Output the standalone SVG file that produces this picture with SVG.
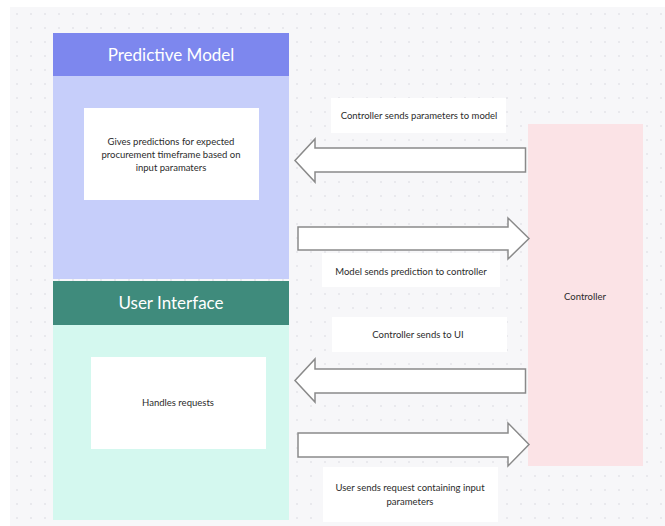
<svg xmlns="http://www.w3.org/2000/svg" width="665" height="526" viewBox="0 0 665 526">
<defs>
<pattern id="dots" x="10" y="7" width="14" height="14" patternUnits="userSpaceOnUse">
<circle cx="7" cy="7" r="0.8" fill="#d6d6dc"/>
</pattern>
<style>
.t{font-family:Lato,"Open Sans","Liberation Sans",sans-serif;}
.hd{font-size:17px;fill:#ffffff;text-anchor:middle;}
.bd{font-size:9.5px;fill:#2b2b2b;text-anchor:middle;}
.lbl{fill:#ffffff;}
.arr{fill:#ffffff;stroke:#8a8a8a;stroke-width:1.5;stroke-linejoin:miter;}
</style>
</defs>
<rect width="665" height="526" fill="#ffffff"/>
<rect x="10" y="7" width="655" height="519" fill="#f7f7f9"/>
<rect x="10" y="7" width="655" height="519" fill="url(#dots)"/>

<g id="predictive-model">
<rect x="53" y="76" width="236" height="203" fill="#c6cefa"/>
<rect x="53" y="33" width="236" height="43" fill="#7d87ee"/>
<text class="t hd" x="171" y="61">Predictive Model</text>
<rect x="84" y="108" width="175" height="92" fill="#ffffff"/>
<text class="t bd" x="171" y="145">Gives predictions for expected</text>
<text class="t bd" x="171" y="158">procurement timeframe based on</text>
<text class="t bd" x="171" y="171">input paramaters</text>
</g>

<g id="user-interface">
<rect x="53" y="325" width="236" height="195" fill="#d4f8ef"/>
<rect x="53" y="281" width="236" height="44" fill="#3f8b7c"/>
<text class="t hd" x="171" y="309">User Interface</text>
<rect x="91" y="357" width="175" height="92" fill="#ffffff"/>
<text class="t bd" x="178" y="406">Handles requests</text>
</g>

<g id="controller">
<rect x="528" y="124" width="115" height="342" fill="#fbe3e6"/>
<text class="t bd" x="585" y="300">Controller</text>
</g>

<g id="connectors">
<polygon class="arr" points="525.5,148 315,148 315,139 295,160.5 315,182 315,172 525.5,172"/>
<polygon class="arr" points="298,227 508,227 508,218 529,238.5 508,259 508,250 298,250"/>
<polygon class="arr" points="525.5,369 315,369 315,359 295,380.5 315,402 315,393 525.5,393"/>
<polygon class="arr" points="298,433 508,433 508,423 529,444.5 508,466 508,457 298,457"/>
</g>

<g id="labels">
<rect class="lbl" x="331" y="98" width="175" height="35"/>
<text class="t bd" x="419" y="119">Controller sends parameters to model</text>
<rect class="lbl" x="322" y="253" width="178" height="34"/>
<text class="t bd" x="411" y="275">Model sends prediction to controller</text>
<rect class="lbl" x="332" y="317" width="175" height="35"/>
<text class="t bd" x="418" y="338">Controller sends to UI</text>
<rect class="lbl" x="323" y="467" width="175" height="55"/>
<text class="t bd" x="410" y="491">User sends request containing input</text>
<text class="t bd" x="410" y="505">parameters</text>
</g>
</svg>
